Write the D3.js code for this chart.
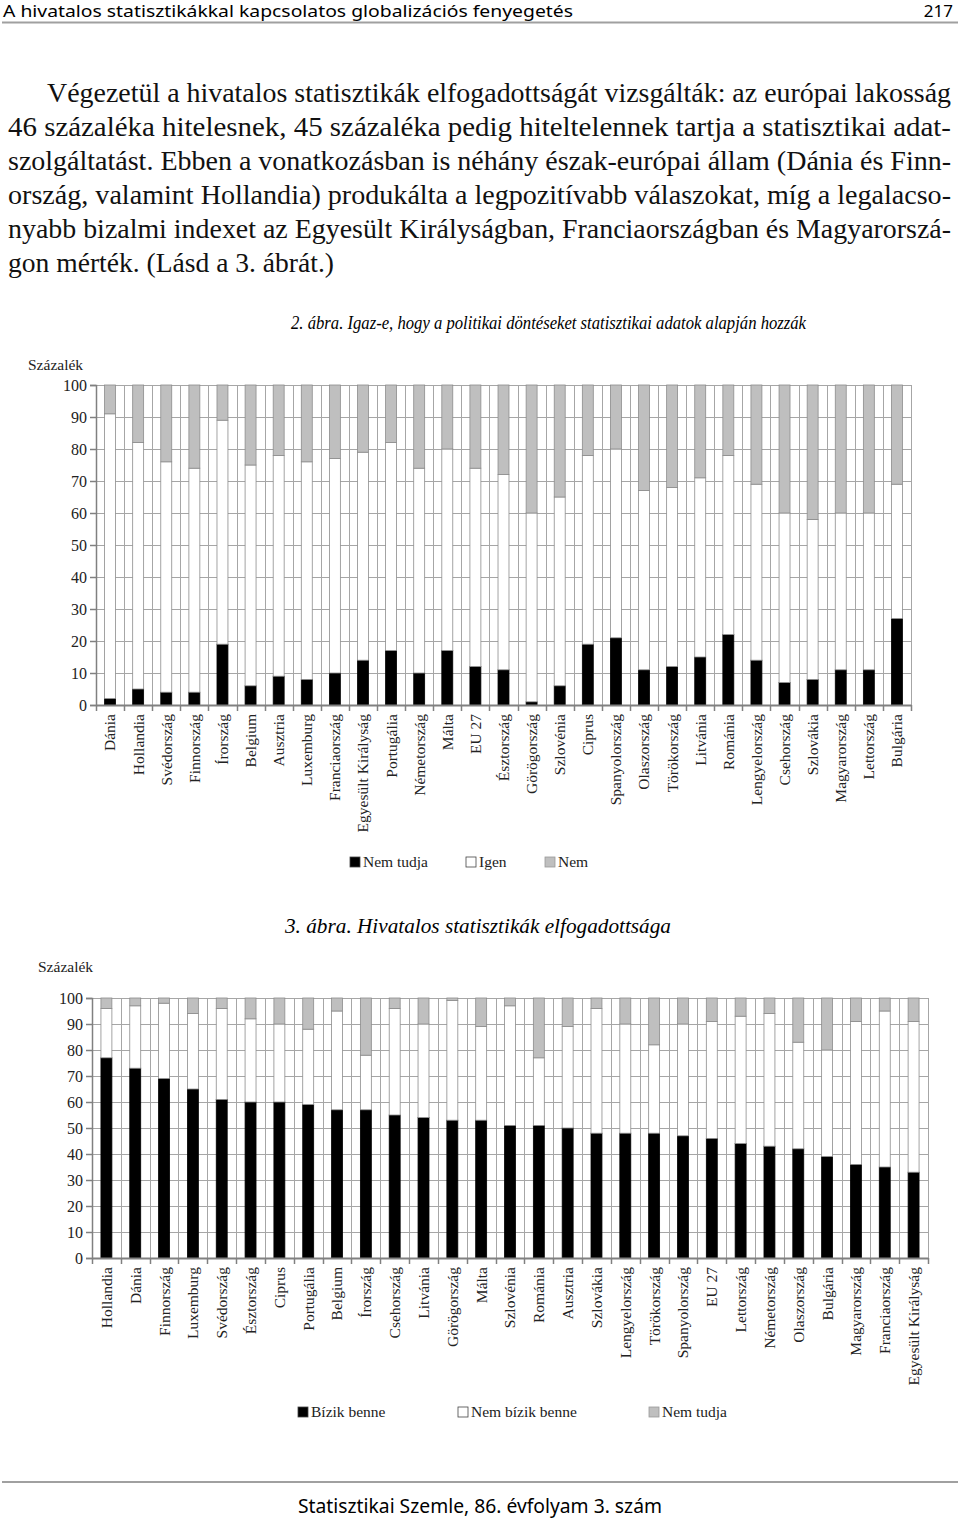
<!DOCTYPE html>
<html><head><meta charset="utf-8">
<script src="https://cdn.jsdelivr.net/npm/d3@7"></script>
<style>
html,body{margin:0;padding:0;background:#fff;}
svg{display:block;}
</style></head>
<body>
<svg id="page" width="960" height="1521"></svg>
<script>
// ---------- DATA ----------
const countries1 = ["Dánia","Hollandia","Svédország","Finnország","Írország","Belgium","Ausztria","Luxemburg","Franciaország","Egyesült Királyság","Portugália","Németország","Málta","EU 27","Észtország","Görögország","Szlovénia","Ciprus","Spanyolország","Olaszország","Törökország","Litvánia","Románia","Lengyelország","Csehország","Szlovákia","Magyarország","Lettország","Bulgária"];
const nemTudja1 = [2,5,4,4,19,6,9,8,10,14,17,10,17,12,11,1,6,19,21,11,12,15,22,14,7,8,11,11,27];
const igen1     = [89,77,72,70,70,69,69,68,67,65,65,64,63,62,61,59,59,59,59,56,56,56,56,55,53,50,49,49,42];
const nem1      = [9,18,24,26,11,25,22,24,23,21,18,26,20,26,28,40,35,22,20,33,32,29,22,31,40,42,40,40,31];
const series1   = ["Nem tudja","Igen","Nem"];

const countries2 = ["Hollandia","Dánia","Finnország","Luxemburg","Svédország","Észtország","Ciprus","Portugália","Belgium","Írország","Csehország","Litvánia","Görögország","Málta","Szlovénia","Románia","Ausztria","Szlovákia","Lengyelország","Törökország","Spanyolország","EU 27","Lettország","Németország","Olaszország","Bulgária","Magyarország","Franciaország","Egyesült Királyság"];
const bizik2    = [77,73,69,65,61,60,60,59,57,57,55,54,53,53,51,51,50,48,48,48,47,46,44,43,42,39,36,35,33];
const nemBizik2 = [19,24,29,29,35,32,30,29,38,21,41,36,46,36,46,26,39,48,42,34,43,45,49,51,41,41,55,60,58];
const nemTudja2 = [4,3,2,6,4,8,10,12,5,22,4,10,1,11,3,23,11,4,10,18,10,9,7,6,17,20,9,5,9];
const series2   = ["Bízik benne","Nem bízik benne","Nem tudja"];

const yTicks = [0,10,20,30,40,50,60,70,80,90,100];

const paragraph = [
  "Végezetül a hivatalos statisztikák elfogadottságát vizsgálták: az európai lakosság",
  "46 százaléka hitelesnek, 45 százaléka pedig hiteltelennek tartja a statisztikai adat-",
  "szolgáltatást. Ebben a vonatkozásban is néhány észak-európai állam (Dánia és Finn-",
  "ország, valamint Hollandia) produkálta a legpozitívabb válaszokat, míg a legalacso-",
  "nyabb bizalmi indexet az Egyesült Királyságban, Franciaországban és Magyarorszá-",
  "gon mérték. (Lásd a 3. ábrát.)"
];

// ---------- PAGE ----------
const svg = d3.select("#page");
const serif = "'Liberation Serif','Times New Roman',serif";
const sans = "'Noto Sans','DejaVu Sans',sans-serif";

svg.append("text").attr("x",3).attr("y",17).attr("font-family",sans).attr("font-size",15.5)
  .attr("textLength",570).attr("lengthAdjust","spacingAndGlyphs")
  .text("A hivatalos statisztikákkal kapcsolatos globalizációs fenyegetés");
svg.append("text").attr("x",953).attr("y",17).attr("text-anchor","end").attr("font-family",sans).attr("font-size",17)
  .text("217");
svg.append("line").attr("x1",2).attr("x2",958).attr("y1",22.5).attr("y2",22.5).attr("stroke","#a0a0a0").attr("stroke-width",2);

const paraStarts = [47,8,8,8,8,8];
const paraEnds = [951,951,951,951,951,null];
paragraph.forEach((t,i)=>{
  const el = svg.append("text").attr("x",paraStarts[i]).attr("y",102+i*33.9)
    .attr("font-family",serif).attr("font-size",26.5).attr("fill","#111").text(t);
  const w = paraEnds[i] ? paraEnds[i]-paraStarts[i] : 326;
  el.attr("textLength",w).attr("lengthAdjust","spacingAndGlyphs");
});

svg.append("line").attr("x1",2).attr("x2",958).attr("y1",1482).attr("y2",1482).attr("stroke","#a0a0a0").attr("stroke-width",2);
svg.append("text").attr("x",298).attr("y",1513).attr("font-family",sans).attr("font-size",20)
  .attr("textLength",364).attr("lengthAdjust","spacingAndGlyphs")
  .text("Statisztikai Szemle, 86. évfolyam 3. szám");

// ---------- CHART FUNCTION ----------
const fills = ["#000000","#ffffff","#bfbfbf"];

function drawChart(cfg){
  const g = svg.append("g");
  const x = d3.scaleBand().domain(cfg.cats).range([cfg.x0,cfg.x1]).paddingInner(cfg.pad).paddingOuter(cfg.pad/2);
  const y = d3.scaleLinear().domain([0,100]).range([cfg.yb,cfg.yt]);
  const step = x.step();

  // title
  g.append("text").attr("x",cfg.titleX).attr("y",cfg.titleY).attr("font-family",serif).attr("font-style","italic")
    .attr("font-size",cfg.titleSize).attr("textLength",cfg.titleW).attr("lengthAdjust","spacingAndGlyphs").text(cfg.title);
  g.append("text").attr("x",cfg.unitX).attr("y",cfg.unitY).attr("font-family",serif).attr("font-size",15.5)
    .attr("fill","#222").text("Százalék");

  // horizontal grid
  g.selectAll(".hg").data(yTicks).join("line")
    .attr("x1",cfg.x0).attr("x2",cfg.x1).attr("y1",d=>Math.round(y(d))+0.5).attr("y2",d=>Math.round(y(d))+0.5)
    .attr("stroke","#a6a6a6").attr("stroke-width",1);
  // vertical grid at category boundaries
  const bounds = d3.range(cfg.cats.length+1).map(i=>cfg.x0+i*step);
  g.selectAll(".vg").data(bounds).join("line")
    .attr("x1",d=>Math.round(d)+0.5).attr("x2",d=>Math.round(d)+0.5).attr("y1",y(100)).attr("y2",y(0))
    .attr("stroke","#a6a6a6").attr("stroke-width",1);

  // stacks
  const rows = cfg.cats.map((c,i)=>({cat:c, a:cfg.vals[0][i], b:cfg.vals[1][i], c2:cfg.vals[2][i]}));
  const stack = d3.stack().keys(["a","b","c2"])(rows);
  stack.forEach((layer,li)=>{
    g.selectAll(".bar"+li).data(layer).join("rect")
      .attr("x",d=>x(d.data.cat)).attr("width",x.bandwidth())
      .attr("y",d=>y(d[1])).attr("height",d=>y(d[0])-y(d[1]))
      .attr("fill",fills[li]).attr("stroke",li===0?"#000":"#8c8c8c").attr("stroke-width",0.8);
  });

  // y axis
  const ya = d3.axisLeft(y).tickValues(yTicks).tickSize(6).tickPadding(3);
  const yg = g.append("g").attr("transform",`translate(${cfg.x0},0)`).call(ya);
  yg.select(".domain").attr("stroke","#808080").attr("stroke-width",1.5);
  yg.selectAll(".tick line").attr("stroke","#808080").attr("stroke-width",1.5);
  yg.selectAll(".tick text").attr("font-family",serif).attr("font-size",cfg.tickSize).attr("fill","#222");

  // x axis
  const xa = d3.axisBottom(x).tickSize(0).tickPadding(0);
  const xg = g.append("g").attr("transform",`translate(0,${cfg.yb})`).call(xa);
  xg.select(".domain").attr("stroke","#808080").attr("stroke-width",2);
  xg.selectAll(".tick text").attr("font-family",serif).attr("font-size",15.5).attr("fill","#222")
    .attr("transform","rotate(-90)").attr("text-anchor","end").attr("dy","0.35em").attr("x",-9).attr("y",0);
  xg.selectAll(".bt").data(bounds).join("line")
    .attr("x1",d=>Math.round(d)+0.5).attr("x2",d=>Math.round(d)+0.5).attr("y1",0).attr("y2",6)
    .attr("stroke","#808080").attr("stroke-width",1.5);

  // legend
  cfg.series.forEach((s,i)=>{
    g.append("rect").attr("x",cfg.legX[i]).attr("y",cfg.legY-5).attr("width",10).attr("height",10)
      .attr("fill",fills[i]).attr("stroke",i===2?"#999":"#444").attr("stroke-width",0.8);
    g.append("text").attr("x",cfg.legX[i]+13).attr("y",cfg.legY+5).attr("font-family",serif).attr("font-size",15.5)
      .attr("fill","#222").text(s);
  });
}

drawChart({
  cats:countries1, vals:[nemTudja1,igen1,nem1], series:series1,
  x0:96, x1:911, yb:705, yt:385, pad:0.61,
  title:"2. ábra. Igaz-e, hogy a politikai döntéseket statisztikai adatok alapján hozzák",
  titleX:291, titleY:329, titleW:515, titleSize:18.5, tickSize:16, unitX:28, unitY:370,
  legX:[350,466,545], legY:862
});

drawChart({
  cats:countries2, vals:[bizik2,nemBizik2,nemTudja2], series:series2,
  x0:92, x1:928, yb:1258, yt:998, pad:0.62,
  title:"3. ábra. Hivatalos statisztikák elfogadottsága",
  titleX:285, titleY:933, titleW:386, titleSize:20.5, tickSize:16, unitX:38, unitY:972,
  legX:[298,458,649], legY:1412
});
</script>
</body></html>
